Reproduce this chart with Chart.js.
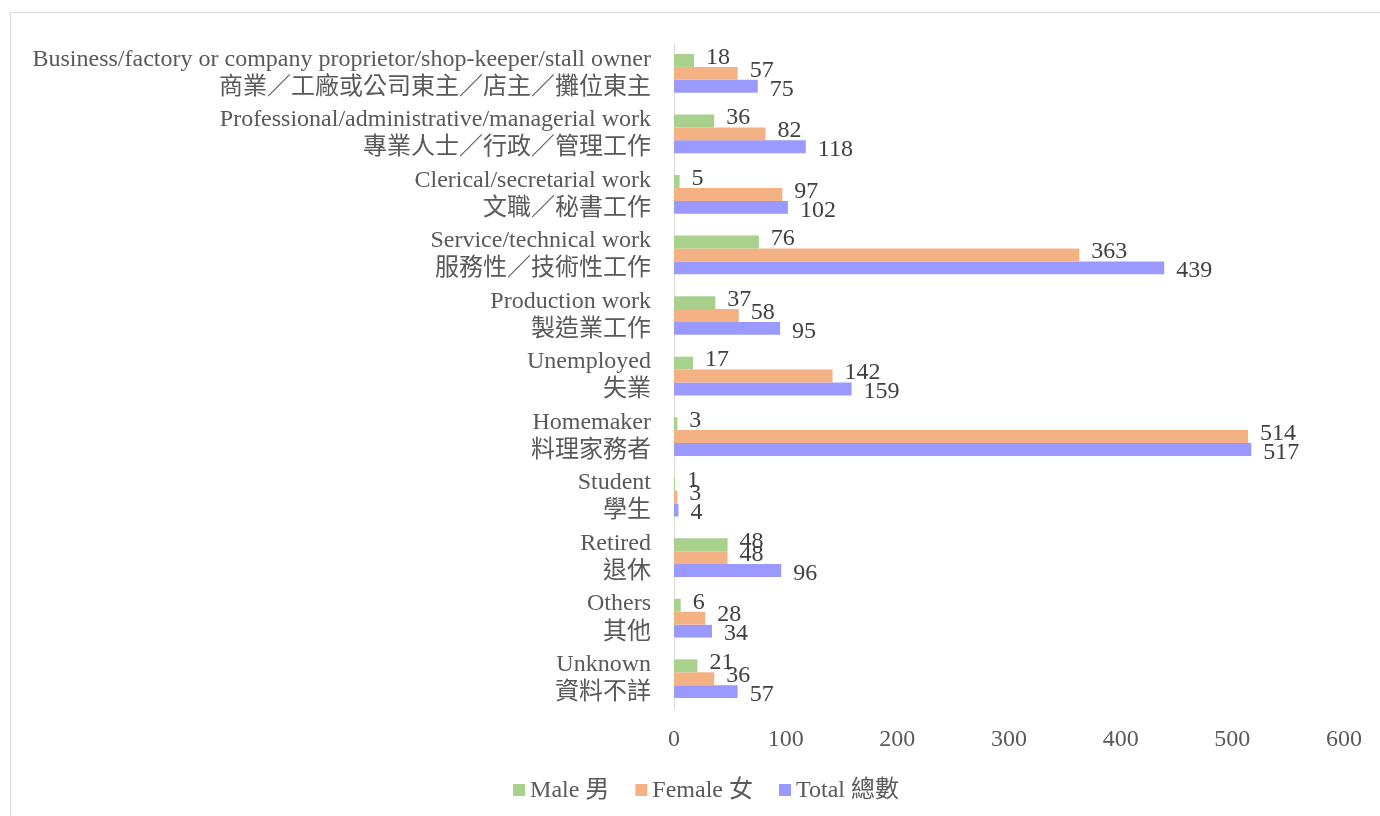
<!DOCTYPE html>
<html>
<head>
<meta charset="utf-8">
<script src="https://cdn.jsdelivr.net/npm/chart.js@4/dist/chart.umd.min.js"></script>
<style>
  html, body { margin: 0; padding: 0; background: #ffffff; }
  #wrap { position: relative; width: 1380px; height: 816px; overflow: hidden; }
  #frame { position: absolute; left: 10px; top: 12px; width: 1400px; height: 900px; border: 1px solid #d9d9d9; box-sizing: border-box; }
  canvas { position: absolute; left: 0; top: 0; }
</style>
</head>
<body>
<div id="wrap">
  <div id="frame"></div>
  <canvas id="c" width="1380" height="816"></canvas>
</div>
<script>
const categories = [
  ["Business/factory or company proprietor/shop-keeper/stall owner", "商業／工廠或公司東主／店主／攤位東主"],
  ["Professional/administrative/managerial work", "專業人士／行政／管理工作"],
  ["Clerical/secretarial work", "文職／秘書工作"],
  ["Service/technical work", "服務性／技術性工作"],
  ["Production work", "製造業工作"],
  ["Unemployed", "失業"],
  ["Homemaker", "料理家務者"],
  ["Student", "學生"],
  ["Retired", "退休"],
  ["Others", "其他"],
  ["Unknown", "資料不詳"]
];
const seriesNames = ["Male 男", "Female 女", "Total 總數"];
const maleValues   = [18, 36, 5, 76, 37, 17, 3, 1, 48, 6, 21];
const femaleValues = [57, 82, 97, 363, 58, 142, 514, 3, 48, 28, 36];
const totalValues  = [75, 118, 102, 439, 95, 159, 517, 4, 96, 34, 57];
const xTicks = [0, 100, 200, 300, 400, 500, 600];

const FONT = '"Liberation Serif", "Times New Roman", "Noto Sans CJK TC", serif';
const TEXT = '#595959';

const valueLabels = {
  id: 'valueLabels',
  afterDatasetsDraw(chart) {
    const ctx = chart.ctx;
    const dy = [-3, -3, 3];
    ctx.save();
    ctx.font = '24px ' + FONT;
    ctx.fillStyle = '#404040';
    ctx.textAlign = 'left';
    ctx.textBaseline = 'middle';
    chart.data.datasets.forEach((ds, i) => {
      const meta = chart.getDatasetMeta(i);
      meta.data.forEach((el, j) => {
        ctx.fillText(String(ds.data[j]), el.x + 12, el.y + dy[i]);
      });
    });
    ctx.restore();
  }
};

const bottomLegend = {
  id: 'bottomLegend',
  afterDraw(chart) {
    const ctx = chart.ctx;
    ctx.save();
    ctx.font = '24px ' + FONT;
    ctx.textBaseline = 'middle';
    ctx.textAlign = 'left';
    const box = 12, gapText = 5, gapItem = 26, cy = 791;
    const items = chart.data.datasets.map(ds => ({ text: ds.label, color: ds.backgroundColor, w: ctx.measureText(ds.label).width }));
    const total = items.reduce((s, it) => s + box + gapText + it.w, 0) + gapItem * (items.length - 1);
    let x = 706 - total / 2;
    items.forEach(it => {
      ctx.fillStyle = it.color;
      ctx.fillRect(x, cy - box / 2 - 1, box, box);
      ctx.fillStyle = TEXT;
      ctx.fillText(it.text, x + box + gapText, cy);
      x += box + gapText + it.w + gapItem;
    });
    ctx.restore();
  }
};

new Chart(document.getElementById('c'), {
  type: 'bar',
  data: {
    labels: categories,
    datasets: [
      { label: seriesNames[0], data: maleValues, backgroundColor: '#a9d18e' },
      { label: seriesNames[1], data: femaleValues, backgroundColor: '#f4b183' },
      { label: seriesNames[2], data: totalValues, backgroundColor: '#9999ff' }
    ]
  },
  options: {
    indexAxis: 'y',
    responsive: false,
    animation: false,
    devicePixelRatio: 1,
    layout: { padding: { top: 28, right: 36, bottom: 51, left: 0 } },
    datasets: { bar: { barPercentage: 1.0, categoryPercentage: 0.64 } },
    scales: {
      x: {
        min: 0, max: 600,
        afterBuildTicks(scale) { scale.ticks = xTicks.map(v => ({ value: v })); },
        grid: { display: false },
        border: { display: false },
        ticks: { color: TEXT, font: { family: FONT, size: 24 }, padding: 8, maxRotation: 0 },
        afterFit(scale) { scale.height = 56; }
      },
      y: {
        grid: { display: false },
        border: { display: true, color: '#d9d9d9', width: 1 },
        ticks: { color: TEXT, font: { family: FONT, size: 24, lineHeight: 1.17 }, padding: 15, autoSkip: false },
        afterFit(scale) { scale.width = 674; }
      }
    },
    plugins: {
      legend: { display: false },
      tooltip: { enabled: false }
    }
  },
  plugins: [valueLabels, bottomLegend]
});
</script>
</body>
</html>
